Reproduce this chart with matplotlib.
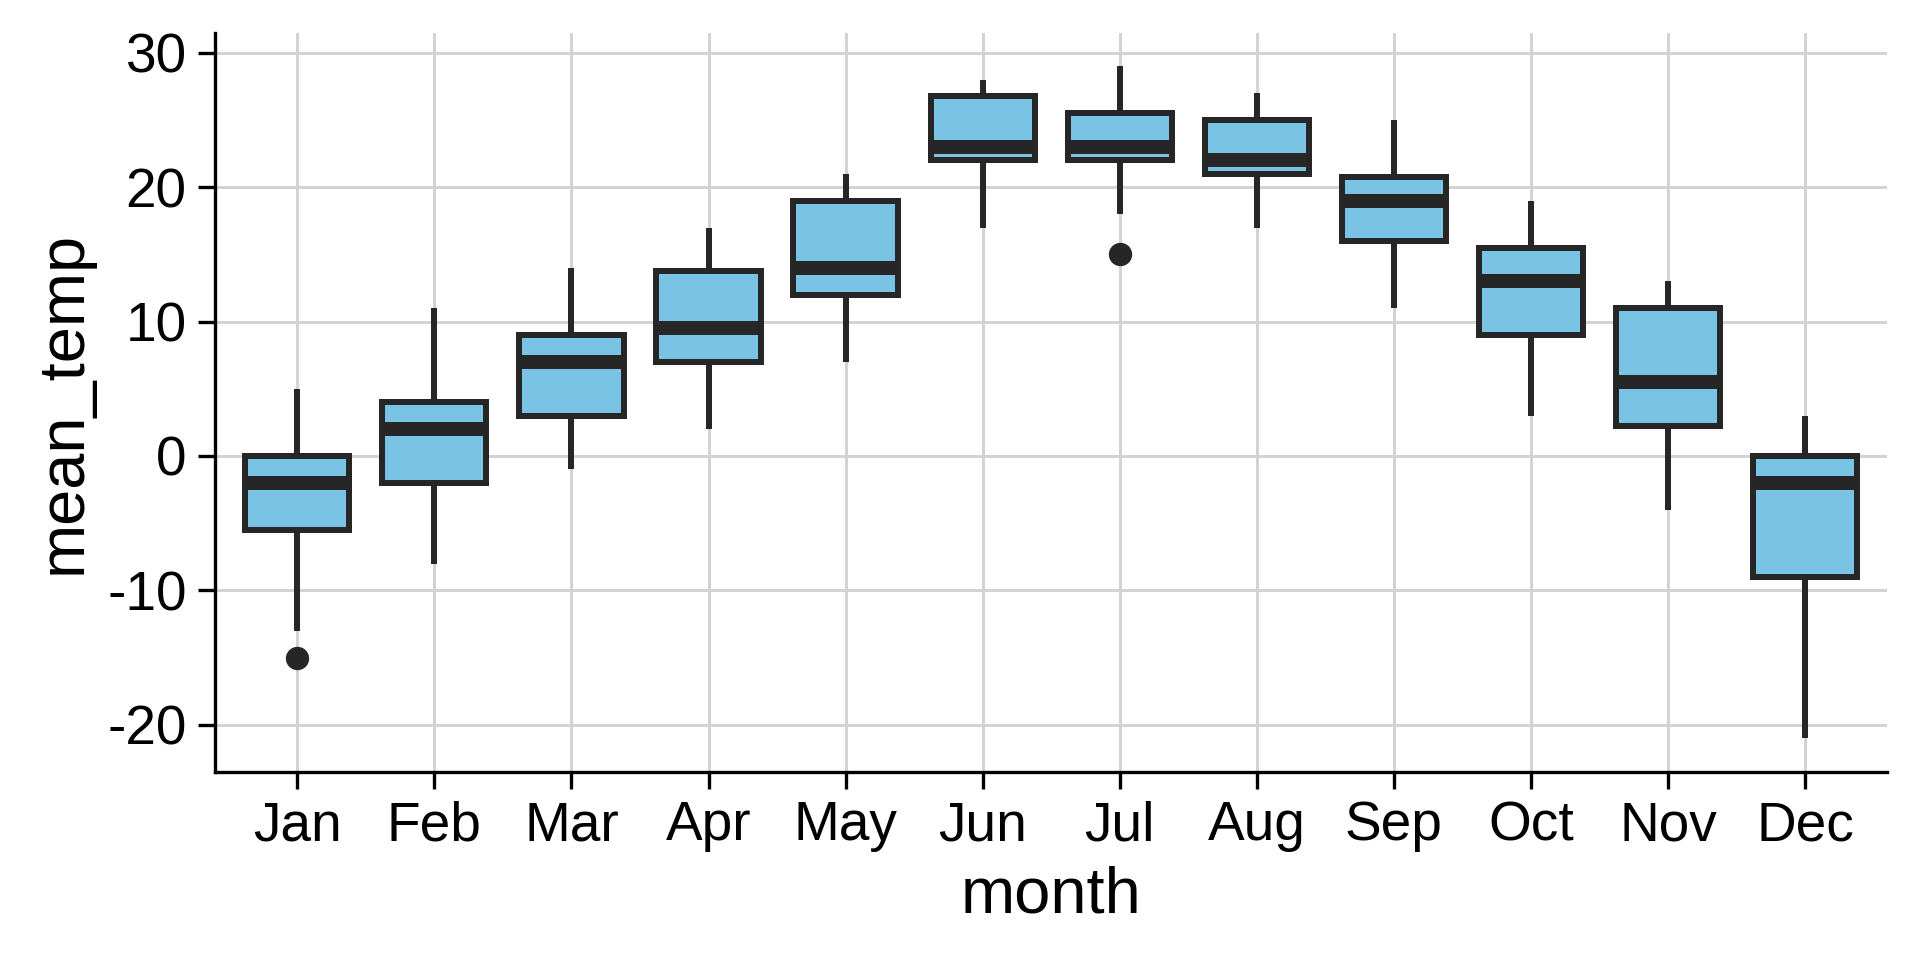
import matplotlib.pyplot as plt

# month labels and box statistics
months = ['Jan', 'Feb', 'Mar', 'Apr', 'May', 'Jun', 'Jul', 'Aug', 'Sep', 'Oct', 'Nov', 'Dec']
whis_low = [-13, -8, -1, 2, 7, 17, 18, 17, 11, 3, -4, -21]
q1 = [-5.5, -2, 3, 7, 12, 22, 22, 21, 16, 9, 2.25, -9]
median = [-2, 2, 7, 9.5, 14, 23, 23, 22, 19, 13, 5.5, -2]
q3 = [0, 4, 9, 13.75, 19, 26.75, 25.5, 25, 20.75, 15.5, 11, 0]
whis_high = [5, 11, 14, 17, 21, 28, 29, 27, 25, 19, 13, 3]
outliers = {'Jan': [-15], 'Jul': [15]}

stats = []
for i, m in enumerate(months):
    stats.append({'label': m, 'whislo': whis_low[i], 'q1': q1[i], 'med': median[i],
                  'q3': q3[i], 'whishi': whis_high[i], 'fliers': outliers.get(m, [])})

plt.rcParams['font.family'] = ['Liberation Sans', 'DejaVu Sans']
plt.rcParams['axes.unicode_minus'] = False

fig = plt.figure(figsize = (8, 4), dpi = 240)
ax = fig.add_axes([0.112, 0.196, 0.871, 0.77])

edge = '#262626'
ax.bxp(stats, positions = range(len(months)), widths = 0.76, patch_artist = True, showcaps = False,
       boxprops = dict(facecolor = '#79C3E5', edgecolor = edge, linewidth = 1.8),
       whiskerprops = dict(color = edge, linewidth = 1.8, solid_capstyle = 'butt'),
       medianprops = dict(color = edge, linewidth = 4.2, solid_capstyle = 'butt'),
       flierprops = dict(marker = 'o', markerfacecolor = edge, markeredgecolor = edge, markersize = 6))

ax.set_xlim(-0.6, 11.6)
ax.set_ylim(-23.5, 31.5)
ax.set_yticks([-20, -10, 0, 10, 20, 30])
ax.set_xticks(range(len(months)))
ax.set_xticklabels(months)
ax.grid(True, color = '#d3d3d3', linewidth = 0.9)
ax.set_axisbelow(True)
for s in ['top', 'right']:
    ax.spines[s].set_visible(False)
for s in ['left', 'bottom']:
    ax.spines[s].set_linewidth(1.0)
    ax.spines[s].set_color('black')
ax.tick_params(axis = 'both', labelsize = 16.5, length = 5, width = 1.0, color = 'black')
ax.set_xlabel('month', fontsize = 19.5)
ax.set_ylabel('mean_temp', fontsize = 19.5)

plt.savefig('out.png', dpi = 240)
